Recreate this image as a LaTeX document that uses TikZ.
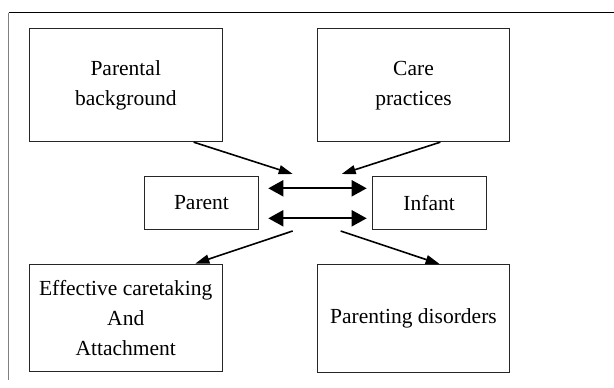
\documentclass[tikz,border=0pt]{standalone}
\usepackage{fontspec}
\setmainfont{Liberation Serif}
\usetikzlibrary{arrows.meta,calc}
\begin{document}
\begin{tikzpicture}[x=1pt,y=-1pt,
  box/.style={draw=black!85, line width=0.9pt, inner sep=0pt, align=center,
              font=\fontsize{21.5}{30}\selectfont},
  arr/.style={line width=1.6pt, -{Triangle[length=14pt,width=9pt]}},
  dbl/.style={line width=2pt, {Triangle[length=15pt,width=16pt]}-{Triangle[length=15pt,width=16pt]}}]
\useasboundingbox (0,0) rectangle (614,388);
% outer frame (clipped)
\coordinate (fa) at (8.5,380);
\coordinate (fb) at (8.5,12.7);
\coordinate (fc) at (614,12.7);
\draw[gray, line width=1.3pt] (fa) -- (fb);
\draw[black, line width=1pt] (fb) -- (fc);
% boxes
\node[box, minimum width=192.5pt, minimum height=113pt] (tl) at (125.75,85.2) {Parental\\background};
\node[box, minimum width=192.5pt, minimum height=113pt] (tr) at (413.5,85.2) {Care\\practices};
\node[box, minimum width=114.4pt, minimum height=52.6pt] (parent) at (201.5,203) {Parent};
\node[box, minimum width=113.7pt, minimum height=52.6pt] (infant) at (429.15,203) {Infant};
\node[box, minimum width=192.5pt, minimum height=107.7pt] (bl) at (125.75,317.85) {Effective caretaking\\And\\Attachment};
\node[box, minimum width=192.5pt, minimum height=107.5pt] (br) at (413.5,318.25) {Parenting disorders};
% free ends
\coordinate (c1) at (292.7,174);
\coordinate (c2) at (341.7,174);
\coordinate (c3) at (292.7,231);
\coordinate (c4) at (340.7,231);
\coordinate (a1) at (268.3,188.3);
\coordinate (a2) at (366.7,188.3);
\coordinate (b1) at (268.3,218.3);
\coordinate (b2) at (366.7,218.3);
% arrows
\draw[arr] ($(tl.south west)!0.851!(tl.south east)$) -- (c1);
\draw[arr] ($(tr.south west)!0.639!(tr.south east)$) -- (c2);
\draw[arr] (c3) -- ($(bl.north west)!0.860!(bl.north east)$);
\draw[arr] (c4) -- ($(br.north west)!0.635!(br.north east)$);
\draw[dbl] (a1) -- (a2);
\draw[dbl] (b1) -- (b2);
\end{tikzpicture}
\end{document}
